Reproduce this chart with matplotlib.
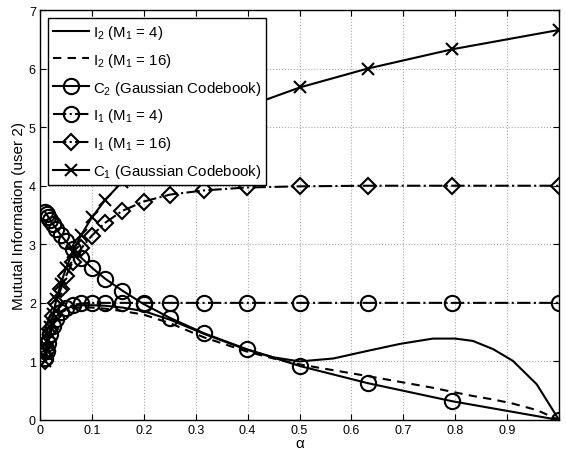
import matplotlib
matplotlib.use('Agg')
from matplotlib import pyplot as plt
import numpy as np

plt.rcParams['font.family'] = ['Liberation Sans', 'DejaVu Sans']
plt.rcParams['mathtext.fontset'] = 'custom'
plt.rcParams['mathtext.rm'] = 'Liberation Sans'
plt.rcParams['mathtext.it'] = 'Liberation Sans:italic'

# alpha grid used for the marker curves
alpha = [0.01, 0.0126, 0.0158, 0.02, 0.0251, 0.0316, 0.0398, 0.0501, 0.0631, 0.0794,
         0.1, 0.1259, 0.1585, 0.1995, 0.2512, 0.3162, 0.3981, 0.5012, 0.631, 0.7943, 1.0]

c1_gauss = [1.00, 1.18, 1.37, 1.58, 1.81, 2.06, 2.32, 2.59, 2.87, 3.16,
            3.46, 3.76, 4.07, 4.39, 4.71, 5.03, 5.35, 5.68, 6.00, 6.33, 6.66]
c2_gauss = [3.55, 3.51, 3.47, 3.41, 3.34, 3.26, 3.16, 3.05, 2.92, 2.77,
            2.60, 2.41, 2.21, 1.98, 1.74, 1.48, 1.21, 0.92, 0.63, 0.32, 0.0]
i1_m4 = [1.05, 1.18, 1.32, 1.46, 1.60, 1.73, 1.84, 1.91, 1.96, 1.99,
         2.0, 2.0, 2.0, 2.0, 2.0, 2.0, 2.0, 2.0, 2.0, 2.0, 2.0]
i1_m16 = [1.00, 1.17, 1.36, 1.56, 1.78, 2.00, 2.23, 2.46, 2.70, 2.93,
          3.15, 3.37, 3.57, 3.73, 3.85, 3.92, 3.97, 3.99, 4.0, 4.0, 4.0]

# alpha grid for the I2 curves (finer near the right end)
alpha_i2 = [0.01, 0.0126, 0.0158, 0.02, 0.0251, 0.0316, 0.0398, 0.0501, 0.0631, 0.0794,
            0.1, 0.1259, 0.1585, 0.1995, 0.2512, 0.3162, 0.3981, 0.45, 0.5, 0.565,
            0.631, 0.694, 0.757, 0.8, 0.834, 0.873, 0.911, 0.957, 1.0]
i2_m4 = [1.10, 1.26, 1.41, 1.55, 1.67, 1.77, 1.85, 1.90, 1.94, 1.96,
         1.96, 1.95, 1.92, 1.86, 1.71, 1.47, 1.20, 1.07, 1.00, 1.05,
         1.18, 1.30, 1.39, 1.39, 1.35, 1.21, 1.01, 0.61, 0.0]
i2_m16 = [1.10, 1.25, 1.40, 1.53, 1.65, 1.75, 1.83, 1.88, 1.91, 1.92,
          1.92, 1.90, 1.86, 1.80, 1.65, 1.41, 1.17, 1.05, 0.95, 0.85,
          0.75, 0.65, 0.55, 0.47, 0.41, 0.35, 0.28, 0.17, 0.0]

fig = plt.figure(figsize=(5.66, 4.52), dpi=100)
ax = fig.add_axes([0.0707, 0.0686, 0.917, 0.907])

lw = 1.5
ax.plot(alpha_i2, i2_m4, '-', color='k', lw=lw, label=r'I$_2$ (M$_1$ = 4)')
ax.plot(alpha_i2, i2_m16, '--', color='k', lw=lw, dashes=(4, 3), label=r'I$_2$ (M$_1$ = 16)')
ax.plot(alpha, c2_gauss, '-', color='k', lw=lw, marker='o', ms=11, mfc='none', mew=1.5,
        label=r'C$_2$ (Gaussian Codebook)')
ax.plot(alpha, i1_m4, '-.', color='k', lw=lw, marker='o', ms=11, mfc='none', mew=1.5,
        label=r'I$_1$ (M$_1$ = 4)')
ax.plot(alpha, i1_m16, '-.', color='k', lw=lw, marker='D', ms=8, mfc='none', mew=1.5,
        label=r'I$_1$ (M$_1$ = 16)')
ax.plot(alpha, c1_gauss, '-', color='k', lw=lw, marker='x', ms=8, mew=1.5,
        label=r'C$_1$ (Gaussian Codebook)')

ax.set_xlim(0, 1)
ax.set_ylim(0, 7)
ax.set_xticks(np.arange(0, 1.01, 0.1))
ax.set_xticklabels(['0', '0.1', '0.2', '0.3', '0.4', '0.5', '0.6', '0.7', '0.8', '0.9', ''])
ax.set_yticks(range(8))
ax.tick_params(direction='in', top=True, right=True, labelsize=9, length=4, width=0.8, pad=3)
ax.grid(True, linestyle=':', color='#aaaaaa', linewidth=0.8)
for s in ax.spines.values():
    s.set_linewidth(1.0)

ax.set_xlabel('α', fontsize=11, labelpad=0)
ax.set_ylabel('Mututal Information (user 2)', fontsize=11, labelpad=2)

leg = ax.legend(loc='upper left', fontsize=10.8, handlelength=2.4, labelspacing=0.66,
                borderaxespad=0.55, fancybox=False, framealpha=1, edgecolor='k',
                handletextpad=0.3, borderpad=0.3)
leg.get_frame().set_linewidth(1.0)

plt.savefig('out.png', dpi=100)
